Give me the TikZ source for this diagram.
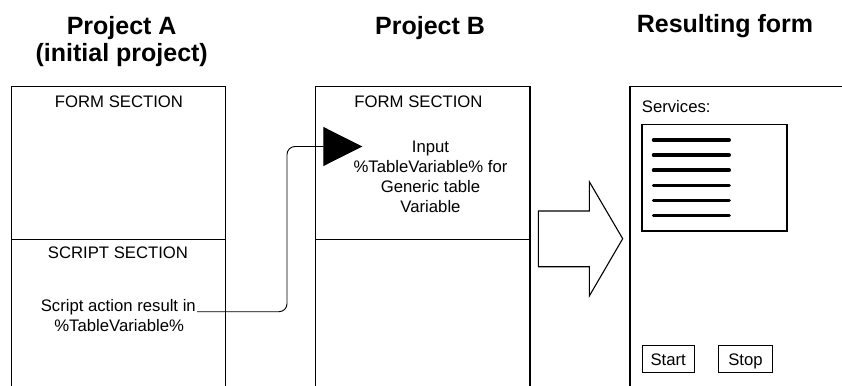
\documentclass[tikz,border=0pt]{standalone}
\usepackage{fontspec}
\setmainfont{Liberation Sans}
\usetikzlibrary{arrows.meta}
\begin{document}
\begin{tikzpicture}[x=1pt,y=-1pt,
  frame/.style={line width=1.1pt},
  title/.style={font=\fontsize{25}{27}\selectfont\bfseries, align=center, inner sep=0pt},
  body/.style={font=\fontsize{16.7}{20}\selectfont, inner sep=0pt},
  listline/.style={line width=3.5pt, line cap=round},
  button/.style={draw, frame, body, minimum height=26.6pt, text height=12pt, text depth=0pt},
  link/.style={line width=0.9pt, rounded corners=8pt}]
\clip (0,0) rectangle (842,385);

% column titles
\node[title] (titleA) at (121.7,42) {Project A\\(initial project)};
\node[title, anchor=base] (titleB) at (430,35) {Project B};
\node[title, anchor=base] (titleR) at (725,33) {Resulting form};

% Project A: form and script sections
\draw[frame] (11.7,400) |- (225.7,86.7) -- (225.7,400);
\draw[frame] (11.7,239.3) -- (225.7,239.3);
\node[body, anchor=base] (formA) at (119,107.3) {FORM SECTION};
\node[body, anchor=base] (scriptA) at (118,258.5) {SCRIPT SECTION};
\node[body, anchor=base, inner xsep=1pt] (resLine) at (118.3,311.7) {Script action result in};
\node[body, anchor=base] (resVar) at (119.2,331) {\%TableVariable\%};

% Project B: form and script sections
\draw[frame] (315.7,400) |- (530,86.7) -- (530,400);
\draw[frame] (315.7,239.3) -- (530,239.3);
\node[body, anchor=base] (formB) at (418.5,107) {FORM SECTION};
\node[body, align=center] (inputTxt) at (430.5,177) {Input\\\%TableVariable\% for\\Generic table\\Variable};
\coordinate (inTip) at (362.3,146.5);

% variable handed over from the script to the form input
\draw[link, -{Triangle[length=39pt,width=39pt]}] (resLine.base east) -| (287,146.5) -- (inTip);

% big hollow arrow towards the result
\draw[frame] (538.3,211) -- (589.3,211) -- (589.3,181.7) -- (622.7,238.7)
  -- (589.3,296) -- (589.3,266.7) -- (538.3,266.7) -- cycle;

% resulting form
\draw[frame] (850,86.7) -| (630,400);
\node[body, anchor=base west] (services) at (641.7,112.3) {Services:};
\draw[frame] (642,124.3) rectangle (787,231);
\foreach \yy in {140,155.1,170.2,185.3,200.4,215.5}
  \draw[listline] (653.5,\yy) -- (729.2,\yy);
\node[button, minimum width=52.3pt] (start) at (668.2,359) {Start};
\node[button, minimum width=54.4pt] (stop) at (745.5,359) {Stop};
\end{tikzpicture}
\end{document}
